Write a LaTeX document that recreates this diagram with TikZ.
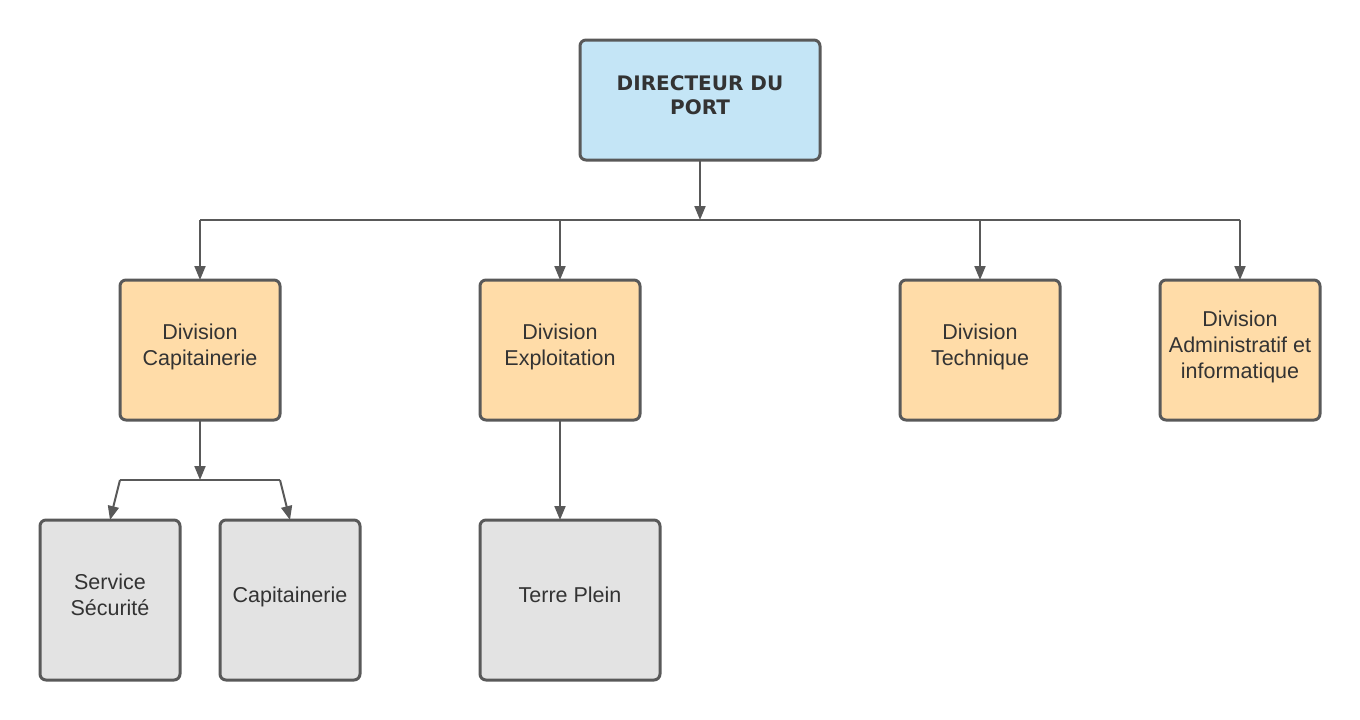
\documentclass[tikz,border=0pt]{standalone}
\usepackage{fontspec}
\setmainfont{Liberation Sans}
\newfontfamily\titlefont{DejaVu Sans}
\usepackage{xcolor}
\usepackage{tikz}
\usetikzlibrary{positioning, arrows.meta}
\definecolor{dirblue}{HTML}{C4E5F6}
\definecolor{divorange}{HTML}{FFDCA8}
\definecolor{servgray}{HTML}{E3E3E3}
\definecolor{linegray}{HTML}{595959}
\definecolor{textgray}{HTML}{333333}
\tikzstyle{director} = [rectangle, rounded corners=6pt, minimum width=240pt, minimum height=120pt, outer sep=0pt, text depth=9pt, text centered, align=center, draw=linegray, line width=3pt, fill=dirblue, text=textgray, font=\titlefont\bfseries\fontsize{20}{24}\selectfont]
\tikzstyle{division} = [rectangle, rounded corners=6pt, minimum width=160pt, minimum height=140pt, outer sep=0pt, text depth=10pt, text centered, align=center, draw=linegray, line width=3pt, fill=divorange, text=textgray, font=\fontsize{21.5}{26}\selectfont]
\tikzstyle{service} = [rectangle, rounded corners=6pt, minimum width=140pt, minimum height=160pt, outer sep=0pt, text depth=10pt, text centered, align=center, draw=linegray, line width=3pt, fill=servgray, text=textgray, font=\fontsize{21.5}{26}\selectfont]
\tikzstyle{arrow} = [line width=2pt, draw=linegray, -{Triangle[length=14pt,width=11pt]}]
\tikzstyle{line} = [line width=2pt, draw=linegray]

\begin{document}
\begin{tikzpicture}[x=1pt,y=-1pt]
		\useasboundingbox (0,0) rectangle (1360,720);
		\node (dir) [director] at (700,100) {DIRECTEUR DU\\PORT};
		\node (capdiv) [division] at (200,350) {Division\\Capitainerie};
		\node (expdiv) [division, right=200pt of capdiv] {Division\\Exploitation};
		\node (techdiv) [division] at (980,350) {Division\\Technique};
		\node (admdiv) [division, right=100pt of techdiv] {Division\\Administratif et\\informatique};
		\node (secu) [service, below=100pt of capdiv, xshift=-90pt] {Service\\Sécurité};
		\node (capi) [service, right=40pt of secu] {Capitainerie};
		\node (terre) [service, below=100pt of expdiv, xshift=10pt, minimum width=180pt] {Terre Plein};
		\coordinate (bus) at (700,220);
		\coordinate [below=60pt of capdiv] (capsplit);
		% directeur vers les divisions
		\draw [arrow] (dir) -- (bus);
		\draw [line] (capdiv.north |- bus) -- (admdiv.north |- bus);
		\foreach \d in {capdiv, expdiv, techdiv, admdiv}
			\draw [arrow] (\d.north |- bus) -- (\d);
		% division capitainerie
		\draw [arrow] (capdiv) -- (capsplit);
		\draw [line] (capsplit -| capdiv.west) -- (capsplit -| capdiv.east);
		\draw [arrow] (capsplit -| capdiv.west) -- (secu.north);
		\draw [arrow] (capsplit -| capdiv.east) -- (capi.north);
		% division exploitation
		\draw [arrow] (expdiv) -- (expdiv.south |- terre.north);
	\end{tikzpicture}
\end{document}
